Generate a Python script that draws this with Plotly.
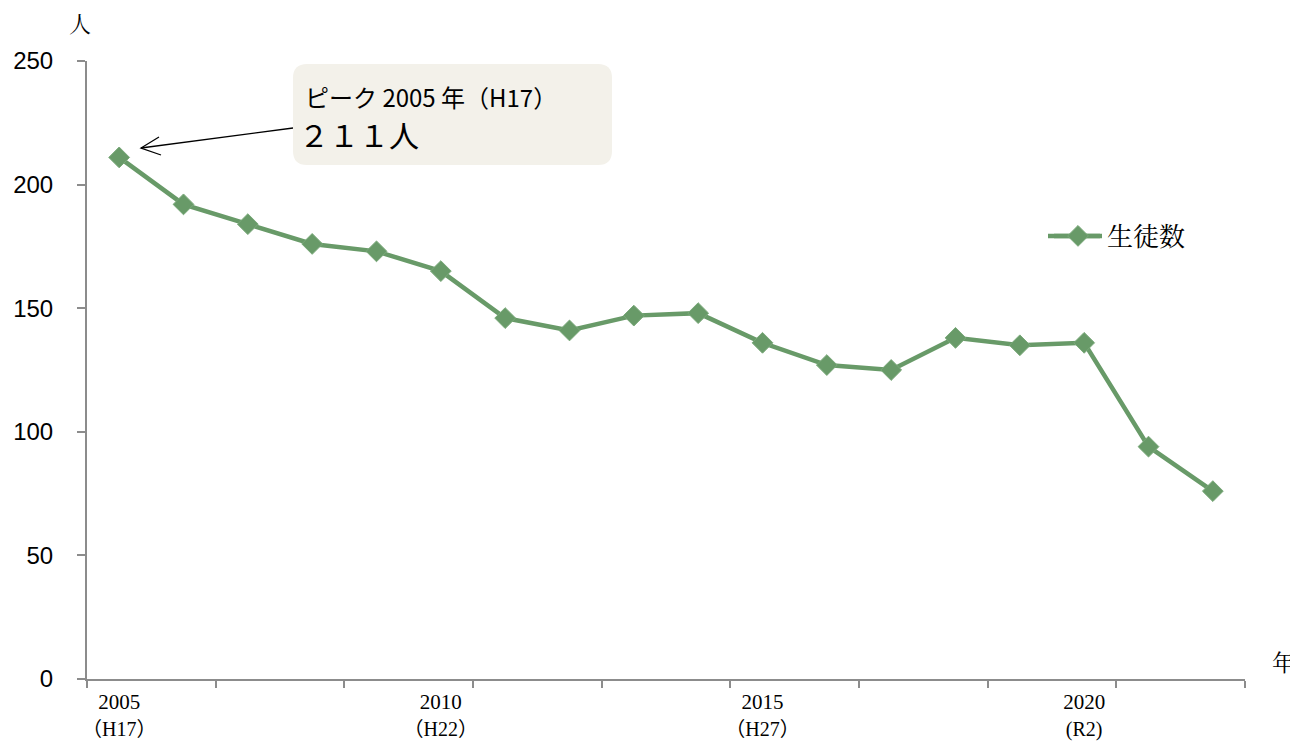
import plotly.graph_objects as go

years = [str(y) for y in range(2005, 2023)]
students = [211, 192, 184, 176, 173, 165, 146, 141, 147, 148, 136, 127, 125, 138, 135, 136, 94, 76]
label_years = ["2005", "2010", "2015", "2020"]
year_text = ["2005", "2010", "2015", "2020"]
era_text = ["（H17）", "（H22）", "（H27）", "(R2)"]
series_name = "生徒数"

GREEN = "#689a68"
idx = list(range(len(years)))
label_idx = [years.index(y) for y in label_years]
tick_marks = [i - 0.5 for i in range(0, len(years) + 1, 2)]

fig = go.Figure()
fig.add_trace(go.Scatter(
    x=idx, y=students, mode="lines+markers", name=series_name,
    line=dict(color=GREEN, width=4.5),
    marker=dict(symbol="diamond", size=16, color=GREEN, line=dict(color="#7aa97a", width=1)),
    xaxis="x", yaxis="y",
))
# invisible traces carrying the two rows of x labels
fig.add_trace(go.Scatter(x=label_idx, y=[None]*len(label_idx), xaxis="x2", yaxis="y",
                         showlegend=False, hoverinfo="skip"))
fig.add_trace(go.Scatter(x=label_idx, y=[None]*len(label_idx), xaxis="x3", yaxis="y",
                         showlegend=False, hoverinfo="skip"))

OFF = 8  # page body margin
W, H = 1298 - OFF, 742 - OFF
L, T = 87 - OFF, 61 - OFF
pw, ph = 1158, 618
R, B = W - L - pw, H - T - ph
# convert reference-screen pixels to paper coords
def px(x): return (x - OFF - L) / pw
def py(y): return (T + ph - (y - OFF)) / ph

xr = [-0.5, len(years) - 0.5]
serif = "Liberation Serif, Noto Sans CJK JP"
fig.update_layout(
    width=W, height=H, margin=dict(l=L, r=R, t=T, b=B, autoexpand=False),
    paper_bgcolor="white", plot_bgcolor="white",
    showlegend=True,
    legend=dict(x=px(1049), y=py(236), xanchor="left", yanchor="middle", itemwidth=48,
                font=dict(family="Noto Serif CJK JP, Noto Sans CJK JP", size=26, color="black"),
                bgcolor="rgba(0,0,0,0)"),
    xaxis=dict(range=xr, tickmode="array", tickvals=tick_marks, automargin=False,
               ticktext=[""] * len(tick_marks), ticks="outside", ticklen=7, tickwidth=2,
               tickcolor="#8c8c8c", showline=True, linecolor="#8c8c8c", linewidth=2,
               showgrid=False, zeroline=False),
    xaxis2=dict(range=xr, overlaying="x", side="bottom", automargin=False,
                tickmode="array", tickvals=label_idx, ticktext=year_text, ticks="",
                showline=False, showgrid=False, zeroline=False, ticklabelstandoff=8,
                tickfont=dict(family=serif, size=21, color="black")),
    xaxis3=dict(range=xr, overlaying="x", side="bottom", automargin=False,
                tickmode="array", tickvals=label_idx, ticktext=era_text, ticks="",
                showline=False, showgrid=False, zeroline=False, ticklabelstandoff=36,
                tickfont=dict(family=serif, size=20, color="black")),
    yaxis=dict(range=[0, 250], tickmode="array", tickvals=[0, 50, 100, 150, 200, 250],
               ticks="outside", ticklen=8, tickwidth=2, tickcolor="#8c8c8c", automargin=False,
               showline=True, linecolor="#8c8c8c", linewidth=2, showgrid=False,
               zeroline=False, ticklabelstandoff=19,
               tickfont=dict(family="Liberation Sans, Arial", size=24, color="black")),
)

# legend line extension (Excel-style longer legend line)
fig.add_shape(type="line", xref="paper", yref="paper", x0=px(1048), x1=px(1100), y0=py(236), y1=py(236),
              line=dict(color=GREEN, width=4.5), layer="below")

# rounded callout box
x0, x1, y0, y1, r = px(293), px(612), py(64), py(165), 14
rx, ry = r / pw, r / ph
path = (f"M {x0+rx},{y0} L {x1-rx},{y0} Q {x1},{y0} {x1},{y0-ry} "
        f"L {x1},{y1+ry} Q {x1},{y1} {x1-rx},{y1} L {x0+rx},{y1} Q {x0},{y1} {x0},{y1+ry} "
        f"L {x0},{y0-ry} Q {x0},{y0} {x0+rx},{y0} Z")
fig.add_shape(type="path", path=path, xref="paper", yref="paper",
              fillcolor="#f3f1ea", line=dict(width=0), layer="above")

# arrow: line plus open head
ax0, ay0, ax1, ay1 = 293, 128, 141, 148
fig.add_shape(type="line", xref="paper", yref="paper", x0=px(ax0), y0=py(ay0), x1=px(ax1), y1=py(ay1),
              line=dict(color="black", width=1.3))
fig.add_shape(type="path", xref="paper", yref="paper",
              path=f"M {px(159)},{py(137)} L {px(ax1)},{py(ay1)} L {px(161)},{py(155)}",
              line=dict(color="black", width=1.3))

fig.add_annotation(x=px(304), y=py(97), xref="paper", yref="paper", xanchor="left", yanchor="middle",
                   text="ピーク 2005 年（H17）", showarrow=False, borderpad=0,
                   font=dict(family="Noto Sans CJK JP", size=24, color="black"))
fig.add_annotation(x=px(298), y=py(134), xref="paper", yref="paper", xanchor="left", yanchor="middle",
                   text="２１１人", showarrow=False, borderpad=0,
                   font=dict(family="Noto Sans CJK JP", size=30, color="black"))

fig.add_annotation(x=px(80), y=py(23), xref="paper", yref="paper", xanchor="center", yanchor="middle",
                   text="人", showarrow=False, borderpad=0,
                   font=dict(family="Noto Serif CJK JP, Noto Sans CJK JP", size=22, color="black"))
fig.add_annotation(x=px(1283), y=py(661), xref="paper", yref="paper", xanchor="center", yanchor="middle",
                   text="年", showarrow=False, borderpad=0,
                   font=dict(family="Noto Serif CJK JP, Noto Sans CJK JP", size=23, color="black"))

fig.write_html("out.html")
